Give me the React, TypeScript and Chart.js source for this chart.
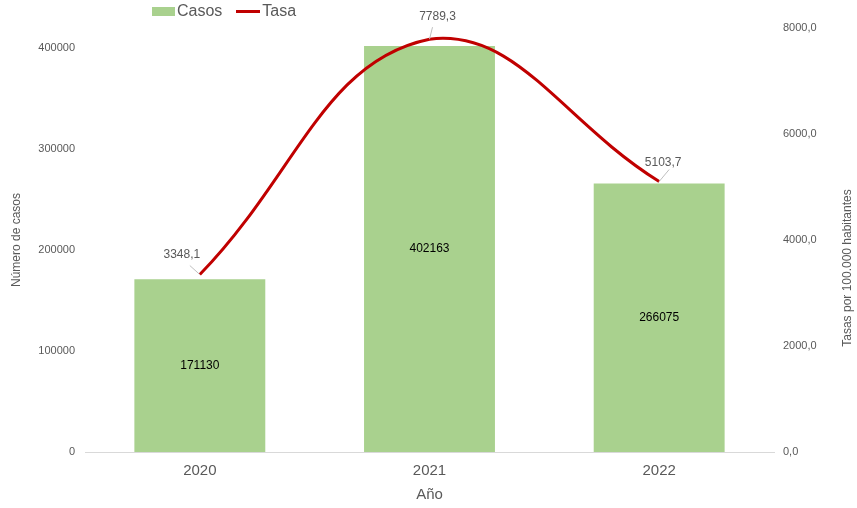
import React, { useEffect, useRef } from "react";
import { Chart, registerables } from "chart.js";

Chart.register(...registerables);

const years = ["2020", "2021", "2022"];
const casos = [171130, 402163, 266075];
const tasa = [3348.1, 7789.3, 5103.7];
const tasaLabels = ["3348,1", "7789,3", "5103,7"];
const casosTicks = [0, 100000, 200000, 300000, 400000];

const FONT = "'Liberation Sans', Arial, sans-serif";
const GREY = "#595959";

const labelPlugin = {
  id: "customLabels",
  afterDatasetsDraw(chart: any) {
    const ctx = chart.ctx;
    const area = chart.chartArea;
    ctx.save();
    const barMeta = chart.getDatasetMeta(0);
    ctx.font = `12px ${FONT}`;
    ctx.fillStyle = "#000000";
    ctx.textAlign = "center";
    ctx.textBaseline = "middle";
    barMeta.data.forEach((bar: any, i: number) => {
      const mid = (bar.y + bar.base) / 2;
      ctx.fillText(String(casos[i]), bar.x, mid);
    });
    const lineMeta = chart.getDatasetMeta(1);
    const offsets = [
      { tx: -18, ty: -20, lx1: -10, ly1: -9 },
      { tx: 8, ty: -22, lx1: 3, ly1: -12 },
      { tx: 4, ty: -19, lx1: 10, ly1: -12 },
    ];
    ctx.font = `12px ${FONT}`;
    lineMeta.data.forEach((pt: any, i: number) => {
      const o = offsets[i];
      ctx.strokeStyle = "#bfbfbf";
      ctx.lineWidth = 1;
      ctx.beginPath();
      ctx.moveTo(pt.x + o.lx1, pt.y + o.ly1);
      ctx.lineTo(pt.x, pt.y);
      ctx.stroke();
      ctx.fillStyle = GREY;
      ctx.fillText(tasaLabels[i], pt.x + o.tx, pt.y + o.ty);
    });
    ctx.fillStyle = GREY;
    ctx.font = `12px ${FONT}`;
    ctx.save();
    ctx.translate(17, (area.top + area.bottom) / 2);
    ctx.rotate(-Math.PI / 2);
    ctx.fillText("Número de casos", 0, 0);
    ctx.restore();
    ctx.save();
    ctx.translate(848, 268);
    ctx.rotate(-Math.PI / 2);
    ctx.fillText("Tasas por 100.000 habitantes", 0, 0);
    ctx.restore();
    ctx.font = `15px ${FONT}`;
    ctx.fillText("Año", (area.left + area.right) / 2, 495);
    ctx.restore();
  },
};

export default function App() {
  const ref = useRef<HTMLCanvasElement>(null);
  useEffect(() => {
    if (!ref.current) return;
    const chart = new Chart(ref.current, {
      type: "bar",
      data: {
        labels: years,
        datasets: [
          {
            type: "bar",
            label: "Casos",
            data: casos,
            backgroundColor: "#A9D18E",
            yAxisID: "y",
            categoryPercentage: 1,
            barPercentage: 0.57,
            order: 2,
          },
          {
            type: "line",
            label: "Tasa",
            data: tasa,
            borderColor: "#C00000",
            borderWidth: 3,
            pointRadius: 0,
            tension: 0.42,
            yAxisID: "y1",
            order: 1,
          } as any,
        ],
      },
      options: {
        animation: false,
        responsive: true,
        maintainAspectRatio: false,
        layout: { padding: { top: 28, left: 0, right: 0, bottom: 0 } },
        plugins: { legend: { display: false }, tooltip: { enabled: false } },
        scales: {
          x: {
            grid: { display: false, drawTicks: false },
            border: { display: true, color: "#d9d9d9", width: 1 },
            ticks: { color: GREY, font: { family: FONT, size: 15 }, padding: 10 },
            afterFit: (s: any) => { s.height = 56; },
          },
          y: {
            position: "left",
            min: 0,
            max: 420000,
            grid: { display: false, drawTicks: false },
            border: { display: false },
            ticks: {
              stepSize: 100000,
              color: GREY,
              font: { family: FONT, size: 11 },
              padding: 10,
              callback: (v: any) => String(v),
            },
            afterBuildTicks: (s: any) => {
              s.ticks = casosTicks.map((v) => ({ value: v }));
            },
            afterFit: (s: any) => { s.width = 85; },
          },
          y1: {
            position: "right",
            min: 0,
            max: 8000,
            grid: { display: false, drawTicks: false },
            border: { display: false },
            ticks: {
              stepSize: 2000,
              color: GREY,
              font: { family: FONT, size: 11 },
              padding: 9,
              callback: (v: any) => Number(v).toFixed(1).replace(".", ","),
            },
            afterFit: (s: any) => { s.width = 83; },
          },
        },
      },
      plugins: [labelPlugin],
    });
    return () => chart.destroy();
  }, []);

  return (
    <div style={{ position: "fixed", left: 0, top: 0, width: 857, height: 508, background: "#fff" }}>
      <canvas ref={ref} />
      <div
        style={{
          position: "absolute",
          left: 152,
          top: 2,
          display: "flex",
          alignItems: "center",
          fontFamily: FONT,
          fontSize: 16,
          color: GREY,
        }}
      >
        <span style={{ display: "inline-block", width: 23, height: 9, background: "#A9D18E", marginRight: 2 }} />
        <span>Casos</span>
        <span style={{ display: "inline-block", width: 24, height: 3, background: "#C00000", marginLeft: 14, marginRight: 2 }} />
        <span>Tasa</span>
      </div>
    </div>
  );
}
